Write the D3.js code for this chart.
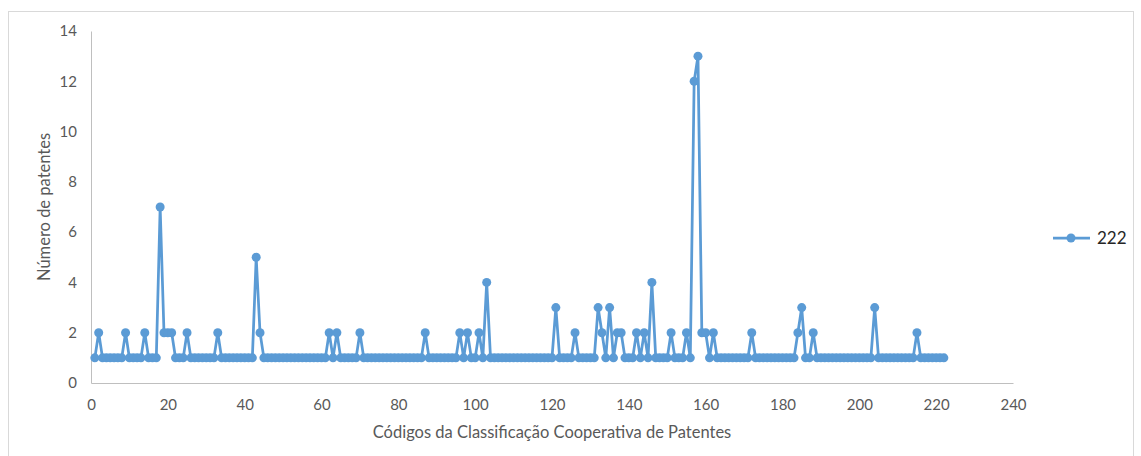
<!DOCTYPE html>
<html>
<head>
<meta charset="utf-8">
<script src="https://cdn.jsdelivr.net/npm/d3@7"></script>
<style>
  html, body { margin: 0; padding: 0; background: #fff; }
  svg { display: block; }
</style>
</head>
<body>
<svg id="chart" width="1141" height="456"></svg>
<script>
// Number of patents per CPC code (codes numbered 1..222)
const counts = [
  1,2,1,1,1,1,1,1,2,1,
  1,1,1,2,1,1,1,7,2,2,
  2,1,1,1,2,1,1,1,1,1,
  1,1,2,1,1,1,1,1,1,1,
  1,1,5,2,1,1,1,1,1,1,
  1,1,1,1,1,1,1,1,1,1,
  1,2,1,2,1,1,1,1,1,2,
  1,1,1,1,1,1,1,1,1,1,
  1,1,1,1,1,1,2,1,1,1,
  1,1,1,1,1,2,1,2,1,1,
  2,1,4,1,1,1,1,1,1,1,
  1,1,1,1,1,1,1,1,1,1,
  3,1,1,1,1,2,1,1,1,1,
  1,3,2,1,3,1,2,2,1,1,
  1,2,1,2,1,4,1,1,1,1,
  2,1,1,1,2,1,12,13,2,2,
  1,2,1,1,1,1,1,1,1,1,
  1,2,1,1,1,1,1,1,1,1,
  1,1,1,2,3,1,1,2,1,1,
  1,1,1,1,1,1,1,1,1,1,
  1,1,1,3,1,1,1,1,1,1,
  1,1,1,1,2,1,1,1,1,1,
  1,1
];
const codes = counts.map((_, i) => i + 1);
const xTicks = [0, 20, 40, 60, 80, 100, 120, 140, 160, 180, 200, 220, 240];
const yTicks = [0, 2, 4, 6, 8, 10, 12, 14];
const seriesName = "222";
const xTitle = "Códigos da Classificação Cooperativa de Patentes";
const yTitle = "Número de patentes";

const blue = "#5B9BD5";
const font = "Lato, 'Open Sans', sans-serif";
const svg = d3.select("#chart");

// outer chart frame
svg.append("rect")
  .attr("x", 8.5).attr("y", 11.5)
  .attr("width", 1125).attr("height", 460)
  .attr("fill", "none").attr("stroke", "#D9D9D9").attr("stroke-width", 1);

const plot = { left: 91, right: 1013, top: 31, bottom: 383 };
const x = d3.scaleLinear().domain([0, 240]).range([plot.left, plot.right]);
const y = d3.scaleLinear().domain([0, 14]).range([plot.bottom, plot.top]);

// x axis
const gx = svg.append("g")
  .attr("transform", `translate(0,${plot.bottom})`)
  .call(d3.axisBottom(x).tickValues(xTicks).tickSize(0).tickPadding(16).tickFormat(d3.format("d")));
gx.select(".domain").attr("stroke", "#BFBFBF").attr("stroke-width", 1);
gx.selectAll("text").attr("fill", "#595959").style("font-family", font).style("font-size", "15px");

// y axis
const gy = svg.append("g")
  .attr("transform", `translate(${plot.left},0)`)
  .call(d3.axisLeft(y).tickValues(yTicks).tickSize(0).tickPadding(14).tickFormat(d3.format("d")));
gy.select(".domain").attr("stroke", "#BFBFBF").attr("stroke-width", 1);
gy.selectAll("text").attr("fill", "#595959").style("font-family", font).style("font-size", "15px");

// axis titles
svg.append("text")
  .attr("x", 552).attr("y", 438)
  .attr("text-anchor", "middle")
  .attr("fill", "#595959").style("font-family", font).style("font-size", "16.5px")
  .text(xTitle);

svg.append("text")
  .attr("transform", `translate(50,${(plot.top + plot.bottom) / 2}) rotate(-90)`)
  .attr("text-anchor", "middle")
  .attr("fill", "#595959").style("font-family", font).style("font-size", "16.5px")
  .text(yTitle);

// series line with markers
const data = codes.map((c, i) => ({ code: c, value: counts[i] }));
const line = d3.line().x(d => x(d.code)).y(d => y(d.value));

svg.append("path")
  .datum(data)
  .attr("d", line)
  .attr("fill", "none")
  .attr("stroke", blue)
  .attr("stroke-width", 2.75)
  .attr("stroke-linejoin", "round");

svg.append("g").selectAll("circle")
  .data(data)
  .join("circle")
  .attr("cx", d => x(d.code))
  .attr("cy", d => y(d.value))
  .attr("r", 4.5)
  .attr("fill", blue);

// legend
const lg = svg.append("g").attr("transform", "translate(1053,238)");
lg.append("line").attr("x1", 0).attr("x2", 37).attr("y1", 0).attr("y2", 0)
  .attr("stroke", blue).attr("stroke-width", 2.75);
lg.append("circle").attr("cx", 18).attr("cy", 0).attr("r", 4.5).attr("fill", blue);
lg.append("text").attr("x", 44).attr("y", 0).attr("dy", "0.35em")
  .attr("fill", "#262626").style("font-family", font).style("font-size", "17px")
  .text(seriesName);
</script>
</body>
</html>
